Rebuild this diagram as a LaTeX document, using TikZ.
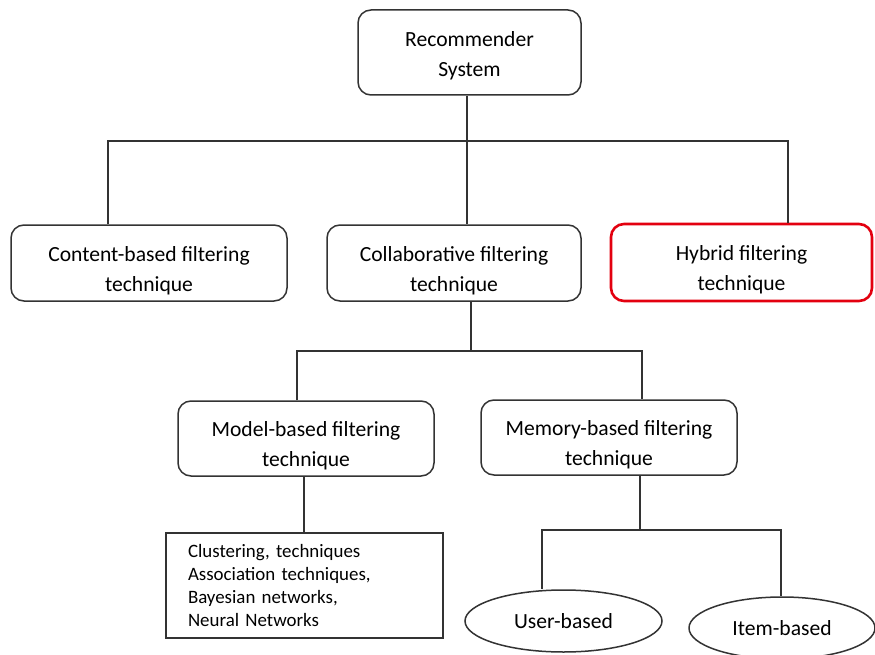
\documentclass[tikz,border=0pt]{standalone}
\usepackage{fontspec}
\setmainfont{Carlito}
\usetikzlibrary{shapes.geometric}
\definecolor{linegray}{HTML}{333333}
\definecolor{hybridred}{HTML}{E3000F}
\newcommand{\dropstrut}[1]{\rule{0pt}{#1}}
\tikzset{
  box/.style={draw=linegray, line width=1.5pt, rounded corners=13pt, align=center,
    font=\fontsize{21.6}{30}\selectfont, inner sep=0pt},
  redbox/.style={box, draw=hybridred, line width=2.6pt},
  listbox/.style={draw=linegray, line width=1.5pt, align=left,
    font=\fontsize{18.9}{23}\selectfont, inner sep=0pt, text width=233pt},
  oval/.style={draw=linegray, line width=1.5pt, ellipse, inner sep=0pt,
    font=\fontsize{21.6}{30}\selectfont},
  conn/.style={draw=linegray, line width=1.5pt}
}
\begin{document}
\begin{tikzpicture}[x=1pt,y=-1pt]
\useasboundingbox[fill=white] (0,0) rectangle (875,655);
\node[box, minimum width=223pt, minimum height=85pt] (top) at (469.5,52.5) {\dropstrut{22pt}Recommender\\System};
\node[box, minimum width=276pt, minimum height=76pt] (content) at (149,263) {\dropstrut{30pt}Content-based filtering\\technique};
\node[box, minimum width=254pt, minimum height=76pt] (collab) at (454,263) {\dropstrut{30pt}Collaborative filtering\\technique};
\node[redbox, minimum width=261pt, minimum height=77pt] (hybrid) at (741.5,262.5) {\dropstrut{30pt}Hybrid filtering\\technique};
\node[box, minimum width=256pt, minimum height=75pt] (model) at (306,438.5) {\dropstrut{30pt}Model-based filtering\\technique};
\node[box, minimum width=256pt, minimum height=75pt] (memory) at (609,437.5) {\dropstrut{30pt}Memory-based filtering\\technique};
\node[listbox, minimum width=277pt, minimum height=105pt] (list) at (304.5,585.5) {Clustering, techniques\\Association techniques,\\Bayesian networks,\\Neural Networks};
\node[oval, minimum width=197pt, minimum height=62pt] (user) at (563.5,621) {User-based};
\node[oval, minimum width=186pt, minimum height=62pt] (item) at (782,628) {Item-based};

% level 1
\coordinate (aL) at (108,141);
\coordinate (aR) at (788,141);
\coordinate (aC) at (467,141);
\draw[conn] (aC |- top.south) -- (aC |- collab.north);
\draw[conn] (aL |- content.north) -- (aL) -- (aR) -- (aR |- hybrid.north);
% level 2
\coordinate (bC) at (471,351);
\coordinate (bL) at (297,351);
\coordinate (bR) at (642,351);
\draw[conn] (bC |- collab.south) -- (bC);
\draw[conn] (bL |- model.north) -- (bL) -- (bR) -- (bR |- memory.north);
% model to list
\coordinate (cM) at (304,500);
\draw[conn] (cM |- model.south) -- (cM |- list.north);
% memory to ellipses
\coordinate (dC) at (640,530);
\coordinate (dL) at (542,530);
\coordinate (dR) at (781,530);
\draw[conn] (dC |- memory.south) -- (dC);
\draw[conn] (dL |- user.north) -- (dL) -- (dR) -- (dR |- item.north);
\end{tikzpicture}
\end{document}
